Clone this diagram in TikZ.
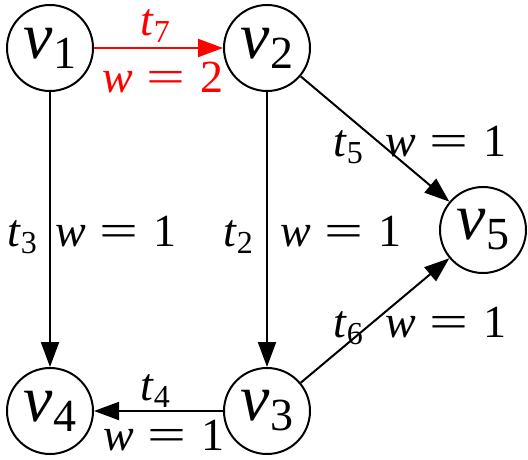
\documentclass[tikz,border=0pt]{standalone}
\usepackage{fontspec}
\setmainfont{Liberation Serif}
\usepackage{graphicx}
\usetikzlibrary{arrows.meta}
\newcommand{\Vname}[1]{\fontsize{66}{66}\selectfont\textit{v}\kern1pt\raisebox{-10pt}{\fontsize{46}{46}\selectfont #1}}
\newcommand{\Tname}[1]{\fontsize{46}{46}\selectfont\textit{t}\raisebox{-7pt}{\fontsize{32}{32}\selectfont #1}}
\newcommand{\Wname}[1]{\fontsize{46}{46}\selectfont\textit{w}\hspace{0.3em}\scalebox{1.5}[1]{=}\hspace{0.33em}#1}
\tikzset{
  vert/.style={circle,draw,line width=2pt,minimum size=86pt,inner sep=0pt},
  edge/.style={line width=2pt,-{Triangle[length=25pt,width=18pt]}},
  lbl/.style={anchor=base west,inner sep=0pt}
}
\begin{document}
\begin{tikzpicture}[x=1pt,y=-1pt]
\useasboundingbox (0,0) rectangle (528,460);
\node[vert] (v1) at (50,48) {\Vname{1}};
\node[vert] (v2) at (267,48) {\Vname{2}};
\node[vert] (v5) at (483,230) {\Vname{5}};
\node[vert] (v4) at (50,411) {\Vname{4}};
\node[vert] (v3) at (267,411) {\Vname{3}};
\draw[edge,red] (v1) -- (v2);
\draw[edge] (v1) -- (v4);
\draw[edge] (v2) -- (v3);
\draw[edge] (v2) -- (v5);
\draw[edge] (v3) -- (v5);
\draw[edge] (v3) -- (v4);
\node[lbl,red] (l7t) at (140,36) {\Tname{7}};
\node[lbl,red] (l7w) at (102,93) {\Wname{2}};
\node[lbl] (l3t) at (7,246) {\Tname{3}};
\node[lbl] (l3w) at (55,246) {\Wname{1}};
\node[lbl] (l2t) at (223,246) {\Tname{2}};
\node[lbl] (l2w) at (280,246) {\Wname{1}};
\node[lbl] (l5t) at (333,157) {\Tname{5}};
\node[lbl] (l5w) at (385,157) {\Wname{1}};
\node[lbl] (l6t) at (333,337) {\Tname{6}};
\node[lbl] (l6w) at (385,337) {\Wname{1}};
\node[lbl] (l4t) at (140,400) {\Tname{4}};
\node[lbl] (l4w) at (103,450) {\Wname{1}};
\end{tikzpicture}
\end{document}
